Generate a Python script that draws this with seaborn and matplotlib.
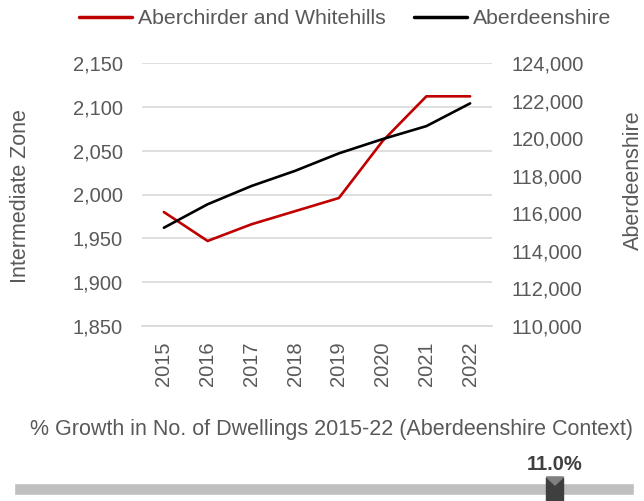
import numpy as np
import pandas as pd
import seaborn as sns
import matplotlib.pyplot as plt
from matplotlib.lines import Line2D
from matplotlib.patches import Rectangle, Polygon

years = ["2015", "2016", "2017", "2018", "2019", "2020", "2021", "2022"]
zone_dwellings = [1980, 1947, 1966, 1981, 1996, 2061, 2112, 2112]
shire_dwellings = [115230, 116480, 117450, 118260, 119190, 119950, 120640, 121850]
left_ticks = [1850, 1900, 1950, 2000, 2050, 2100, 2150]
right_ticks = [110000, 112000, 114000, 116000, 118000, 120000, 122000, 124000]
growth_pct = 11.0
growth_min, growth_max = -2.0, 12.9

sns.set_style("white")
plt.rcParams["font.family"] = ["Liberation Sans", "DejaVu Sans"]
grey = "#595959"
red = "#c00000"

df = pd.DataFrame({"pos": range(len(years)), "zone": zone_dwellings, "shire": shire_dwellings})

fig = plt.figure(figsize=(6.44, 5.01), dpi=100)
ax = fig.add_axes([142 / 644, 1 - 326 / 501, 350 / 644, 263 / 501])
ax2 = ax.twinx()

sns.lineplot(data=df, x="pos", y="zone", ax=ax, color=red, linewidth=1.9)
sns.lineplot(data=df, x="pos", y="shire", ax=ax2, color="black", linewidth=1.9)

ax.set_xlim(-0.5, len(years) - 0.5)
ax.set_ylim(left_ticks[0], left_ticks[-1])
ax2.set_ylim(right_ticks[0], right_ticks[-1])
ax.set_yticks(left_ticks)
ax.set_yticklabels([f"{v:,}" for v in left_ticks])
ax2.set_yticks(right_ticks)
ax2.set_yticklabels([f"{v:,}" for v in right_ticks])
ax.set_xticks(range(len(years)))
ax.set_xticklabels(years, rotation=90)
ax.set_xticks(np.arange(-0.5, len(years)), minor=True)

ax.grid(axis="y", color="#d9d9d9", linewidth=1.2)
ax.set_axisbelow(True)
for a in (ax, ax2):
    for s in a.spines.values():
        s.set_visible(False)
ax.spines["bottom"].set_visible(True)
ax.spines["bottom"].set_color("#d9d9d9")
ax.spines["bottom"].set_linewidth(1.2)

ax.tick_params(axis="y", length=0, pad=14, labelsize=14.5, labelcolor=grey)
ax2.tick_params(axis="y", length=0, pad=14, labelsize=14.5, labelcolor=grey)
ax.tick_params(axis="x", which="major", length=0, pad=11, labelsize=14.5, labelcolor=grey)
ax.tick_params(axis="x", which="minor", length=6, width=1.2, color="#d9d9d9")

ax.set_xlabel("")
ax.set_ylabel("")
ax2.set_ylabel("")
fig.text(21 / 644, 1 - 196 / 501, "Intermediate Zone", rotation=90, ha="center", va="center",
         fontsize=15.5, color=grey)
fig.text(633 / 644, 1 - 180 / 501, "Aberdeenshire", rotation=90, ha="center", va="center",
         fontsize=15.5, color=grey)

handles = [Line2D([], [], color=red, linewidth=2.5), Line2D([], [], color="black", linewidth=2.5)]
fig.legend(handles, ["Aberchirder and Whitehills", "Aberdeenshire"], loc="center",
           bbox_to_anchor=(345 / 644, 1 - 19 / 501), ncol=2, frameon=False, fontsize=15.3,
           labelcolor=grey, handlelength=2.5, handletextpad=0.3, columnspacing=1.3)

fig.text(331 / 644, 1 - 430 / 501, "% Growth in No. of Dwellings 2015-22 (Aberdeenshire Context)",
         ha="center", va="center", fontsize=15.5, color=grey)

# growth gauge
gx = fig.add_axes([14 / 644, 0, 620 / 644, 1 - 477 / 501])
gx.set_xlim(growth_min, growth_max)
gx.set_ylim(0, 24)
gx.axis("off")
gx.barh(12, growth_max - growth_min, left=growth_min, height=12, color="#bfbfbf")
w = (growth_max - growth_min) * 17 / 620
gx.add_patch(Rectangle((growth_pct - w / 2, 0), w, 24, color="#3f3f3f", clip_on=False))
gx.add_patch(Polygon([[growth_pct - w / 2, 24], [growth_pct + w / 2, 24], [growth_pct, 16]],
                     color="#808080", clip_on=False))
fig.text((14 + (growth_pct - growth_min) / (growth_max - growth_min) * 620) / 644, 1 - 465 / 501,
         f"{growth_pct:.1f}%", ha="center", va="center", fontsize=14.5, fontweight="bold",
         color="#404040")

fig.savefig("out.png", dpi=100)
